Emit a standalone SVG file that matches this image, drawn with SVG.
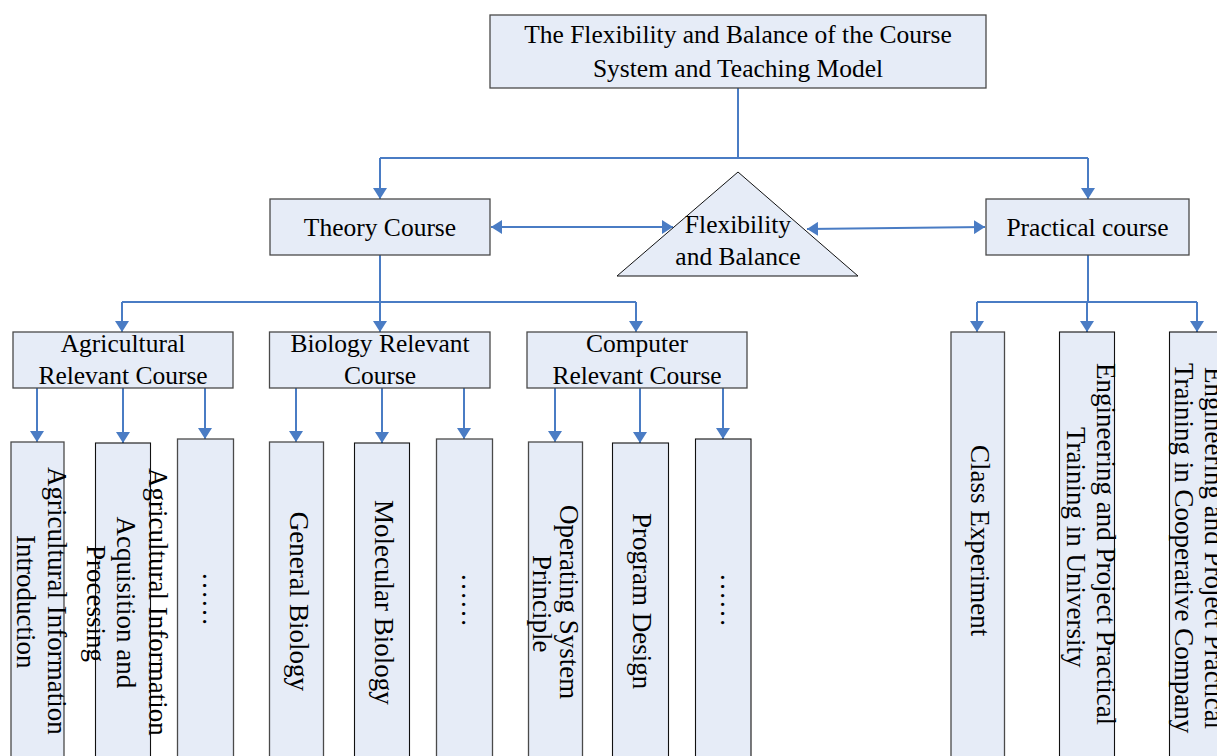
<svg xmlns="http://www.w3.org/2000/svg" width="1217" height="756" viewBox="0 0 1217 756">
<style>
.box{fill:#e6ecf7;stroke:#4a4a4a;stroke-width:1.3}
.box2{fill:#e6ecf7;stroke:#111;stroke-width:1.1}
.t{font-family:"Liberation Serif","Times New Roman",serif;font-size:25.5px;fill:#000;text-anchor:middle}
.v{font-family:"Liberation Serif","Times New Roman",serif;font-size:27px;fill:#000}
.c{fill:none;stroke:#4a7cc4;stroke-width:2}
</style>
<defs>
<marker id="ah" markerWidth="12" markerHeight="14" refX="11" refY="7" orient="auto-start-reverse" markerUnits="userSpaceOnUse">
<path d="M0,0 L11,7 L0,14 z" fill="#4a7cc4"/>
</marker>
</defs>
<rect width="1217" height="756" fill="#fff"/>

<g id="connectors">
<path class="c" d="M738,88 V158 M380,158 H1088"/>
<path class="c" d="M380,158 V199" marker-end="url(#ah)"/>
<path class="c" d="M1088,158 V199" marker-end="url(#ah)"/>
<path class="c" d="M491,227 H673" marker-start="url(#ah)" marker-end="url(#ah)"/>
<path class="c" d="M807,229 L985,227" marker-start="url(#ah)" marker-end="url(#ah)"/>
<path class="c" d="M380,255 V302 M122,302 H636"/>
<path class="c" d="M122,302 V332" marker-end="url(#ah)"/>
<path class="c" d="M380,302 V332" marker-end="url(#ah)"/>
<path class="c" d="M636,302 V332" marker-end="url(#ah)"/>
<path class="c" d="M37,388 V442" marker-end="url(#ah)"/>
<path class="c" d="M123,388 V443" marker-end="url(#ah)"/>
<path class="c" d="M205,388 V439" marker-end="url(#ah)"/>
<path class="c" d="M296,388 V442" marker-end="url(#ah)"/>
<path class="c" d="M382,388 V443" marker-end="url(#ah)"/>
<path class="c" d="M464,388 V439" marker-end="url(#ah)"/>
<path class="c" d="M555,388 V442" marker-end="url(#ah)"/>
<path class="c" d="M640,388 V443" marker-end="url(#ah)"/>
<path class="c" d="M723,388 V439" marker-end="url(#ah)"/>
<path class="c" d="M1088,255 V302 M977,302 H1197"/>
<path class="c" d="M977,302 V332" marker-end="url(#ah)"/>
<path class="c" d="M1087,302 V332" marker-end="url(#ah)"/>
<path class="c" d="M1197,302 V332" marker-end="url(#ah)"/>
</g>

<g id="root">
<rect class="box" x="490" y="15" width="496" height="73"/>
<text class="t" x="738" y="43">The Flexibility and Balance of the Course</text>
<text class="t" x="738" y="77">System and Teaching Model</text>
</g>

<g id="theory">
<rect class="box" x="270" y="199" width="220" height="56"/>
<text class="t" x="380" y="236">Theory Course</text>
</g>

<g id="balance">
<path class="box" d="M738,172 L858,276 L617,276 Z" style="stroke:#111;stroke-width:1"/>
<text class="t" x="738" y="233">Flexibility</text>
<text class="t" x="738" y="265">and Balance</text>
</g>

<g id="practical">
<rect class="box" x="986" y="199" width="203" height="56"/>
<text class="t" x="1087.5" y="236">Practical course</text>
</g>

<g id="agri">
<rect class="box" x="13" y="332" width="220" height="56"/>
<text class="t" x="123" y="352">Agricultural</text>
<text class="t" x="123" y="384">Relevant Course</text>
</g>

<g id="bio">
<rect class="box" x="269.5" y="332" width="220.5" height="56"/>
<text class="t" x="380" y="352">Biology Relevant</text>
<text class="t" x="380" y="384">Course</text>
</g>

<g id="comp">
<rect class="box" x="527" y="332" width="220" height="56"/>
<text class="t" x="637" y="352">Computer</text>
<text class="t" x="637" y="384">Relevant Course</text>
</g>

<g id="agri1">
<rect class="box" x="11" y="442" width="53" height="330"/>
<text class="v" transform="translate(47.5,467) rotate(90)">Agricultural Information</text>
<text class="v" transform="translate(16.5,535) rotate(90)">Introduction</text>
</g>
<g id="agri2">
<rect class="box2" x="95.5" y="443" width="55" height="330"/>
<text class="v" transform="translate(148.5,468) rotate(90)">Agricultural Information</text>
<text class="v" transform="translate(117,516.5) rotate(90)">Acquisition and</text>
<text class="v" transform="translate(87,545) rotate(90)">Processing</text>
</g>
<g id="agri3">
<rect class="box" x="177.5" y="439" width="56" height="330"/>
<text class="v" transform="translate(203,572) rotate(90)">……</text>
</g>

<g id="bio1">
<rect class="box" x="269.5" y="442" width="54" height="330"/>
<text class="v" transform="translate(289.5,511.7) rotate(90)">General Biology</text>
</g>
<g id="bio2">
<rect class="box2" x="354.5" y="443" width="55" height="330"/>
<text class="v" transform="translate(375,500) rotate(90)">Molecular Biology</text>
</g>
<g id="bio3">
<rect class="box" x="436.5" y="439" width="56" height="330"/>
<text class="v" transform="translate(462,573) rotate(90)">……</text>
</g>

<g id="comp1">
<rect class="box" x="528.5" y="442" width="54" height="330"/>
<text class="v" transform="translate(560,505) rotate(90)">Operating System</text>
<text class="v" transform="translate(533,555) rotate(90)">Principle</text>
</g>
<g id="comp2">
<rect class="box2" x="612.5" y="443" width="56" height="330"/>
<text class="v" transform="translate(633,513) rotate(90)">Program Design</text>
</g>
<g id="comp3">
<rect class="box2" x="695.5" y="439" width="55.5" height="330"/>
<text class="v" transform="translate(721,573) rotate(90)">……</text>
</g>

<g id="prac1">
<rect class="box" x="951" y="332" width="53.5" height="440"/>
<text class="v" transform="translate(971,445) rotate(90)">Class Experiment</text>
</g>
<g id="prac2">
<rect class="box2" x="1059.5" y="332" width="55" height="440"/>
<text class="v" transform="translate(1096.5,363) rotate(90)">Engineering and Project Practical</text>
<text class="v" transform="translate(1066.5,427) rotate(90)">Training in University</text>
</g>
<g id="prac3">
<rect class="box2" x="1169.5" y="332" width="70" height="440"/>
<text class="v" transform="translate(1205,367) rotate(90)">Engineering and Project Practical</text>
<text class="v" transform="translate(1175,363) rotate(90)">Training in Cooperative Company</text>
</g>
</svg>
